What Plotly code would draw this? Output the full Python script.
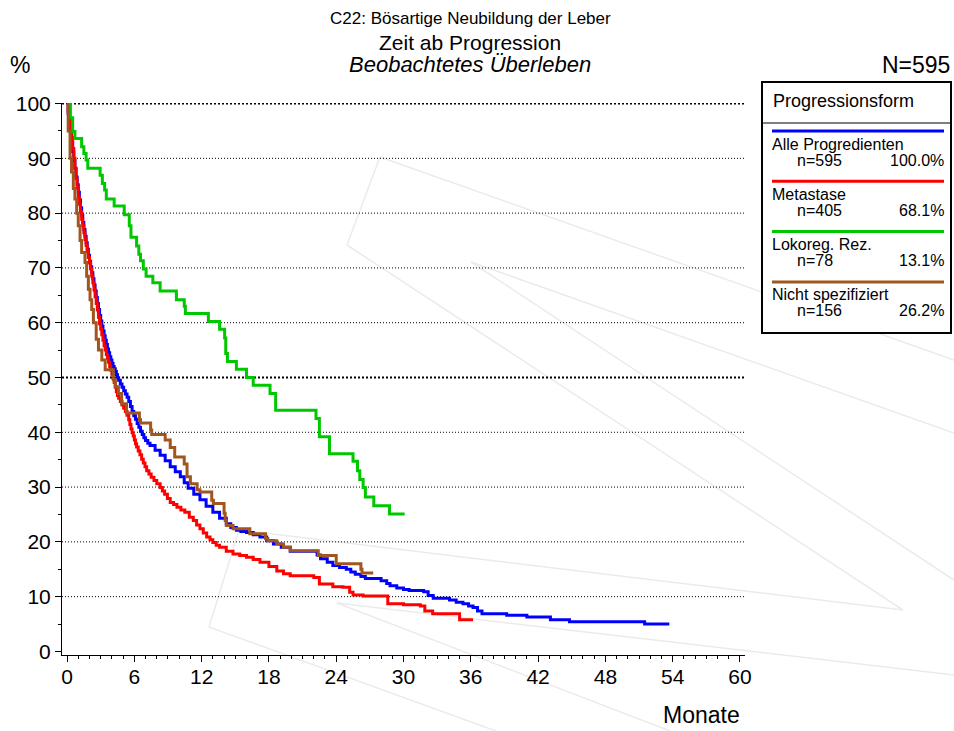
import plotly.graph_objects as go

# ---------------- data ----------------
series_names = ["Alle Progredienten", "Metastase", "Lokoreg. Rez.", "Nicht spezifiziert"]
series_n = [595, 405, 78, 156]
series_colors = ["#0000FF", "#FF0000", "#00C800", "#A0561E"]

blue_t = [0, 0.1, 0.2, 0.3, 0.4, 0.5, 0.6, 0.7, 0.8, 0.9, 1.0, 1.1, 1.2, 1.3, 1.4, 1.5, 1.6, 1.7, 1.8, 1.9,
          2.0, 2.1, 2.2, 2.3, 2.4, 2.5, 2.6, 2.7, 2.8, 2.9, 3.0, 3.1, 3.2, 3.3, 3.4, 3.5, 3.6, 3.7, 3.8, 3.9,
          4.0, 4.1, 4.2, 4.3, 4.4, 4.5, 4.6, 4.75, 4.9, 5.05, 5.2, 5.35, 5.5, 5.65, 5.8, 5.95, 6.1, 6.25,
          6.4, 6.55, 6.7, 6.85, 7.0, 7.2, 7.4, 7.85, 8.3, 8.75, 9.2, 9.65, 10.1, 10.45, 10.8,
          11.3, 11.85, 12.4, 13.0, 13.6, 14.2, 14.6, 15.1, 15.5, 16.0, 16.6, 17.2, 17.8, 18.4, 19.1, 19.9,
          22.3, 22.6, 23.2, 23.7, 24.3, 24.9, 25.3, 25.7, 26.2, 26.6, 28.0, 28.5, 28.8, 29.4, 30.0, 30.5,
          31.8, 32.2, 32.65, 34.1, 34.7, 35.3, 35.8, 36.2, 36.6, 37.0, 39.2, 41.0, 43.1, 44.8, 51.5, 53.7]
blue_s = [100, 98.2, 96.4, 94.6, 92.9, 91.2, 89.6, 88.1, 86.6, 85.2, 83.8, 82.4, 81.0, 79.6, 78.3, 77.0, 75.8,
          74.6, 73.4, 72.3, 71.2, 70.2, 69.1, 68.0, 66.9, 65.8, 64.6, 63.5, 62.4, 61.3, 60.3, 59.4, 58.5, 57.6,
          56.8, 56.0, 55.2, 54.5, 53.8, 53.2, 52.6, 52.0, 51.6, 51.1, 50.5, 49.9, 49.5, 48.8, 48.2, 47.6, 47.0,
          46.4, 45.6, 44.7, 43.8, 43.0, 42.4, 41.6, 40.9, 40.2, 39.6, 39.0, 38.5, 38.0, 37.6, 36.7, 35.8, 34.8,
          33.7, 32.8, 31.9, 30.8, 29.8, 28.7, 27.7, 26.5, 25.4, 24.3, 23.3, 22.6, 22.1, 21.9, 21.7, 21.3, 20.9,
          20.2, 19.6, 19.0, 18.3, 17.6, 16.9, 16.3, 15.7, 15.3, 15.0, 14.5, 14.1, 13.7, 13.3, 12.9, 12.4, 12.0,
          11.6, 11.3, 11.1, 10.9, 10.2, 9.7, 9.4, 9.0, 8.7, 8.3, 8.0, 7.4, 6.9, 6.6, 6.3, 5.8, 5.4, 5.0, 5.0]

red_t = [0, 0.1, 0.2, 0.3, 0.4, 0.5, 0.6, 0.7, 0.8, 0.9, 1.0, 1.1, 1.2, 1.3, 1.4, 1.5, 1.6, 1.7, 1.8, 1.9,
         2.0, 2.1, 2.2, 2.3, 2.4, 2.5, 2.6, 2.7, 2.8, 2.9, 3.0, 3.1, 3.2, 3.3, 3.4, 3.5, 3.6, 3.7, 3.8, 3.9,
         4.0, 4.1, 4.2, 4.3, 4.4, 4.5, 4.6, 4.75, 4.9, 5.05, 5.2, 5.35, 5.5, 5.6, 5.7, 5.8, 5.9, 6.0, 6.1,
         6.2, 6.35, 6.5, 6.65, 6.8, 6.95, 7.1, 7.3, 7.5, 7.75, 8.0, 8.3, 8.5, 8.7, 8.95, 9.2, 9.5, 9.8,
         10.15, 10.5, 10.9, 11.26, 11.55, 11.85, 12.15, 12.45, 12.75, 13.0, 13.3, 13.6, 14.2, 14.8, 15.4,
         16.0, 16.6, 17.2, 18.0, 18.7, 19.3, 19.9, 22.0, 22.5, 23.7, 24.6, 25.2, 25.5, 26.4, 28.6, 30.0,
         31.5, 31.9, 32.6, 35.0, 36.2]
red_s = [100, 98.6, 97.2, 95.6, 93.8, 91.8, 90.0, 88.2, 86.3, 84.6, 83.0, 81.6, 80.2, 78.9, 77.7, 76.4, 75.2,
         74.1, 73.0, 71.9, 70.9, 69.8, 68.5, 67.3, 66.0, 64.8, 63.5, 62.3, 61.0, 59.8, 58.8, 57.8, 56.8, 55.8,
         55.0, 54.2, 53.5, 52.8, 52.0, 51.3, 50.6, 49.8, 49.1, 48.2, 47.4, 46.7, 46.2, 45.6, 45.0, 44.4, 43.8,
         43.1, 42.3, 41.4, 40.6, 39.9, 39.3, 38.6, 37.9, 37.3, 36.6, 35.9, 35.1, 34.4, 33.7, 33.0, 32.4, 31.8,
         31.2, 30.6, 29.9, 29.3, 28.7, 27.9, 27.2, 26.8, 26.3, 25.8, 25.4, 24.5, 23.9, 23.1, 22.4, 21.6, 20.9,
         20.4, 19.9, 19.4, 19.0, 18.3, 17.8, 17.5, 17.2, 16.8, 16.3, 15.5, 14.7, 14.2, 13.8, 13.5, 12.3, 11.8,
         11.7, 10.8, 10.3, 10.1, 8.7, 8.5, 8.3, 7.4, 6.9, 5.8, 5.8]

green_t = [0, 0.3, 0.5, 0.7, 1.3, 1.5, 1.7, 1.85, 2.95, 3.15, 3.35, 3.5, 4.2, 5.1, 5.55, 5.7, 6.2, 6.4, 6.55, 6.8,
           7.05, 7.65, 8.3, 9.75, 10.45, 10.55, 12.6, 13.6, 14.05, 14.15, 14.3, 15.1, 16.0, 16.6, 18.1, 18.6,
           22.2, 22.5, 23.4, 25.5, 25.9, 26.1, 26.4, 26.6, 27.35, 28.75, 30.1]
green_s = [100, 97.4, 94.9, 93.6, 92.1, 90.9, 89.7, 88.2, 86.9, 85.4, 84.2, 82.6, 81.3, 79.7, 77.7, 75.6, 74.0, 72.5,
           71.3, 69.8, 68.5, 67.3, 65.8, 64.2, 63.0, 61.7, 60.2, 58.8, 57.2, 54.4, 52.9, 51.5, 50.0, 48.6, 47.1, 44.0,
           42.5, 39.2, 36.1, 34.7, 33.0, 31.4, 29.9, 28.2, 26.6, 25.1, 25.1]

brown_t = [0, 0.1, 0.27, 0.4, 0.56, 0.7, 0.86, 1.0, 1.16, 1.3, 1.6, 1.75, 1.9, 2.05, 2.2, 2.35, 2.6, 2.8, 3.1, 3.4,
           4.13, 4.3, 4.58, 4.87, 5.3, 6.45, 6.55, 7.45, 7.55, 8.75, 9.2, 9.6, 10.45, 10.7, 11.0, 11.6, 11.85,
           12.9, 13.05, 14.0, 14.1, 14.2, 14.8, 16.3, 17.7, 17.9, 18.7, 19.3, 19.9, 22.4, 24.0, 26.2, 26.3, 27.3]
brown_s = [100, 95, 90, 87.5, 84.5, 82.6, 80, 77.7, 75, 72.8, 71, 68.5, 66.1, 64.2, 62.4, 60, 57, 55, 53.2, 51.4,
           49.6, 48.3, 47.1, 45.2, 43.5, 42.3, 41.7, 40.4, 39.6, 38.6, 37.2, 35.5, 34.2, 31.9, 30.6, 29.5, 29.1,
           27.6, 27.0, 25.2, 23.9, 23.0, 22.4, 21.5, 20.6, 20.2, 19.6, 19.0, 18.4, 17.5, 16.0, 15.0, 14.3, 14.3]

x_ticks = [0, 6, 12, 18, 24, 30, 36, 42, 48, 54, 60]
y_ticks = [0, 10, 20, 30, 40, 50, 60, 70, 80, 90, 100]
grid_values = [10, 20, 30, 40, 50, 60, 70, 80, 90, 100]
bold_grid = [50, 100]

title_lines = ["C22: Bösartige Neubildung der Leber", "Zeit ab Progression", "Beobachtetes Überleben"]
legend_title = "Progressionsform"
total_label = "N=595"
x_title = "Monate"
y_title = "%"

# ---------------- layout geometry ----------------
W, H = 954, 731
ML, MR, MT, MB = 62, 209, 103, 76
PW, PH = W - ML - MR, H - MT - MB
FONT = "Liberation Sans, Arial, sans-serif"


def px(x):
    return (x - ML) / PW


def py(y):
    return (H - MB - y) / PH


fig = go.Figure()
curves = [(blue_t, blue_s), (red_t, red_s), (green_t, green_s), (brown_t, brown_s)]
for (t, s), name, col in zip(curves, series_names, series_colors):
    fig.add_trace(go.Scatter(x=t, y=s, mode="lines", name=name,
                             line=dict(color=col, width=3, shape="hv"), showlegend=False))

shapes = []
# watermark (faint decorative lines)
wm = [((380, 157), (347, 245)), ((380, 157), (954, 360)), ((347, 245), (903, 610)),
      ((239, 530), (903, 610)), ((239, 530), (209, 627)), ((209, 627), (496, 731)),
      ((471, 262), (954, 433)), ((471, 262), (954, 580)), ((337, 603), (954, 675)),
      ((337, 603), (670, 731))]
for (a, b) in wm:
    shapes.append(dict(type="line", xref="paper", yref="paper", x0=px(a[0]), y0=py(a[1]),
                       x1=px(b[0]), y1=py(b[1]), line=dict(color="#EBEBEB", width=1.5), layer="below"))
# grid lines
for v in grid_values:
    bold = v in bold_grid
    shapes.append(dict(type="line", xref="paper", yref="y", x0=0, x1=1, y0=v, y1=v,
                       line=dict(color="black", width=2 if bold else 1,
                                 dash="2px,2px" if bold else "1px,2px"), layer="below"))

# legend box
LX0, LY0, LX1, LY1 = 762, 82, 951, 333
shapes.append(dict(type="rect", xref="paper", yref="paper", x0=px(LX0), y0=py(LY0), x1=px(LX1), y1=py(LY1),
                   line=dict(color="black", width=2), fillcolor="white", layer="above"))
shapes.append(dict(type="line", xref="paper", yref="paper", x0=px(LX0), y0=py(123), x1=px(LX1), y1=py(123),
                   line=dict(color="black", width=1)))

annotations = []
annotations.append(dict(text=legend_title, x=px(771), y=py(101), xref="paper", yref="paper",
                        xanchor="left", yanchor="middle", showarrow=False,
                        font=dict(family=FONT, size=18, color="black")))
total = series_n[0]
for i, (name, n, col) in enumerate(zip(series_names, series_n, series_colors)):
    ly = 131 + 50.3 * i
    shapes.append(dict(type="line", xref="paper", yref="paper", x0=px(772), x1=px(944), y0=py(ly), y1=py(ly),
                       line=dict(color=col, width=3)))
    annotations.append(dict(text=name, x=px(770), y=py(ly + 13), xref="paper", yref="paper",
                            xanchor="left", yanchor="middle", showarrow=False,
                            font=dict(family=FONT, size=16, color="black")))
    annotations.append(dict(text=f"n={n}", x=px(795), y=py(ly + 29), xref="paper", yref="paper",
                            xanchor="left", yanchor="middle", showarrow=False,
                            font=dict(family=FONT, size=16, color="black")))
    annotations.append(dict(text=f"{n / total * 100:.1f}%", x=px(946), y=py(ly + 29), xref="paper", yref="paper",
                            xanchor="right", yanchor="middle", showarrow=False,
                            font=dict(family=FONT, size=16, color="black")))

# titles
title_sizes = [17, 21, 22]
title_y = [18, 42, 64]
for txt, sz, yy, it in zip(title_lines, title_sizes, title_y, [False, False, True]):
    annotations.append(dict(text=f"<i>{txt}</i>" if it else txt, x=px(470), y=py(yy), xref="paper", yref="paper",
                            xanchor="center", yanchor="middle", showarrow=False,
                            font=dict(family=FONT, size=sz, color="black")))
annotations.append(dict(text=y_title, x=px(8), y=py(65), xref="paper", yref="paper", xanchor="left",
                        yanchor="middle", showarrow=False, font=dict(family=FONT, size=23, color="black")))
annotations.append(dict(text=total_label, x=px(952), y=py(65), xref="paper", yref="paper", xanchor="right",
                        yanchor="middle", showarrow=False, font=dict(family=FONT, size=23, color="black")))
annotations.append(dict(text=x_title, x=px(741), y=py(715), xref="paper", yref="paper", xanchor="right",
                        yanchor="middle", showarrow=False, borderpad=0,
                        font=dict(family=FONT, size=23, color="black")))

fig.update_layout(
    width=W, height=H, margin=dict(l=ML, r=MR, t=MT, b=MB, pad=0),
    paper_bgcolor="white", plot_bgcolor="rgba(0,0,0,0)",
    shapes=shapes, annotations=annotations, showlegend=False,
    font=dict(family=FONT, color="black"),
    xaxis=dict(range=[-0.45, 60.45], tickvals=x_ticks, ticktext=[str(v) for v in x_ticks],
               showgrid=False, zeroline=False, showline=True, linecolor="black", linewidth=1,
               ticks="outside", ticklen=6, tickcolor="black", tickfont=dict(family=FONT, size=21),
               ticklabelstandoff=-3,
               minor=dict(dtick=1, tick0=0, ticks="outside", ticklen=3, tickcolor="black", showgrid=False)),
    yaxis=dict(range=[-0.65, 100.1], tickvals=y_ticks, ticktext=[str(v) for v in y_ticks],
               showgrid=False, zeroline=False, showline=True, linecolor="black", linewidth=1,
               ticks="outside", ticklen=6, tickcolor="black", tickfont=dict(family=FONT, size=21),
               minor=dict(dtick=5, tick0=0, ticks="outside", ticklen=3, tickcolor="black", showgrid=False)),
)

fig.write_html("out.html")
